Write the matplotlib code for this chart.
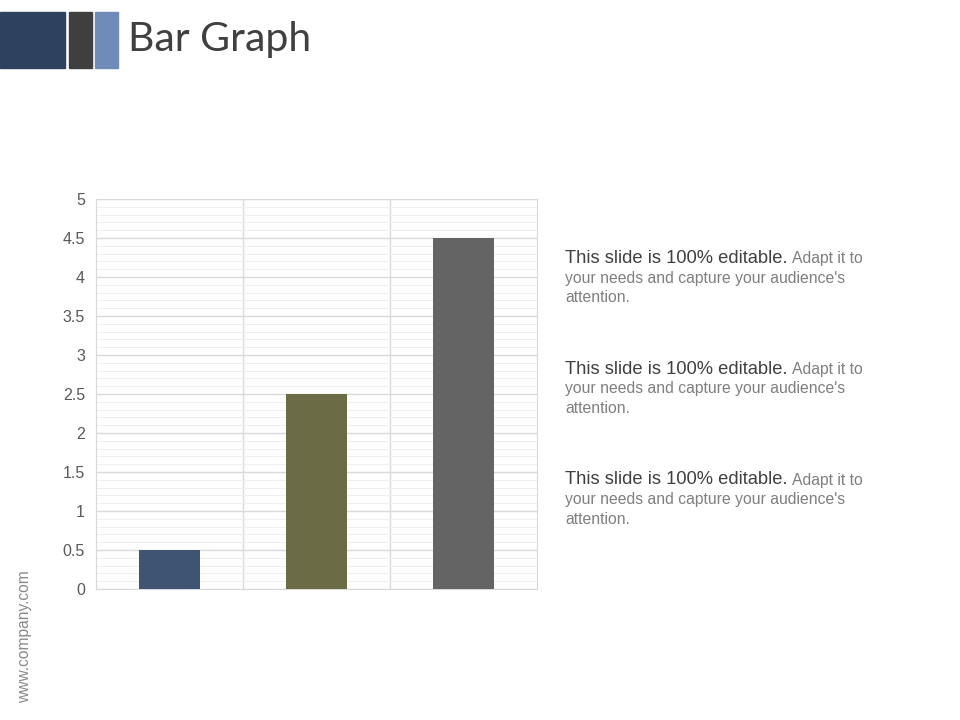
import matplotlib
matplotlib.use('Agg')
from matplotlib import pyplot as plt
from matplotlib.patches import Rectangle
from matplotlib.ticker import MultipleLocator

# chart data
categories = ['Category 1', 'Category 2', 'Category 3']
values = [0.5, 2.5, 4.5]
bar_colors = ['#3F5373', '#6B6B45', '#646464']
y_ticks = [0, 0.5, 1, 1.5, 2, 2.5, 3, 3.5, 4, 4.5, 5]

# side notes
note_heads = ['This slide is 100% editable.'] * 3
note_bodies = ["Adapt it to\nyour needs and capture your audience's\nattention."] * 3

plt.rcParams['font.family'] = ['Liberation Sans', 'DejaVu Sans']

fig = plt.figure(figsize=(9.6, 7.2), dpi=100)
W, H = 960, 720

# header blocks
for x0, x1, c in [(0, 65, '#2E4260'), (69, 92, '#3F3F3F'), (95, 118, '#6F8BBA')]:
    fig.patches.append(Rectangle((x0 / W, 1 - 68 / H), (x1 - x0) / W, 56 / H,
                                 transform=fig.transFigure, color=c))
fig.text(128 / W, 1 - 40 / H, 'Bar Graph', fontsize=29.5, color='#404040',
         family=['Lato', 'DejaVu Sans'], va='center', ha='left')

# the chart
ax = fig.add_axes([96 / W, 1 - 589 / H, (537 - 96) / W, (589 - 199) / H])
x = list(range(len(categories)))
ax.bar(x, values, width=0.41, color=bar_colors, zorder=3)
ax.set_xlim(-0.5, len(categories) - 0.5)
ax.set_ylim(0, 5)
ax.set_yticks(y_ticks)
ax.set_yticklabels([f'{t:g}' for t in y_ticks])
ax.yaxis.set_minor_locator(MultipleLocator(0.1))
ax.grid(axis='y', which='major', color='#D9D9D9', linewidth=1, zorder=0)
ax.grid(axis='y', which='minor', color='#EFEFEF', linewidth=0.8, zorder=0)
ax.set_xticks([])
for b in [0.5, 1.5]:
    ax.axvline(b, color='#D9D9D9', linewidth=1, zorder=0)
ax.tick_params(axis='y', which='both', length=0, pad=8, labelsize=11.5, labelcolor='#595959')
for s in ax.spines.values():
    s.set_color('#D9D9D9')

# notes on the right
fig.canvas.draw()
renderer = fig.canvas.get_renderer()
for i, (head, body) in enumerate(zip(note_heads, note_bodies)):
    base = 263.5 + i * 110.5
    t = fig.text(565 / W, 1 - base / H, head, fontsize=13.2, color='#404040',
                 va='baseline', ha='left')
    bb = t.get_window_extent(renderer)
    lines = body.split('\n')
    fig.text(bb.x1 / W + 4 / W, 1 - base / H, lines[0], fontsize=11.3, color='#7F7F7F',
             va='baseline', ha='left')
    for j, line in enumerate(lines[1:]):
        fig.text(565 / W, 1 - (base + 19.5 * (j + 1)) / H, line, fontsize=11.3,
                 color='#7F7F7F', va='baseline', ha='left')

fig.text(25 / W, 1 - 637 / H, 'www.company.com', rotation=90, fontsize=11.2,
         color='#8A8A8A', va='center', ha='center')

fig.savefig('out.png', dpi=100)
